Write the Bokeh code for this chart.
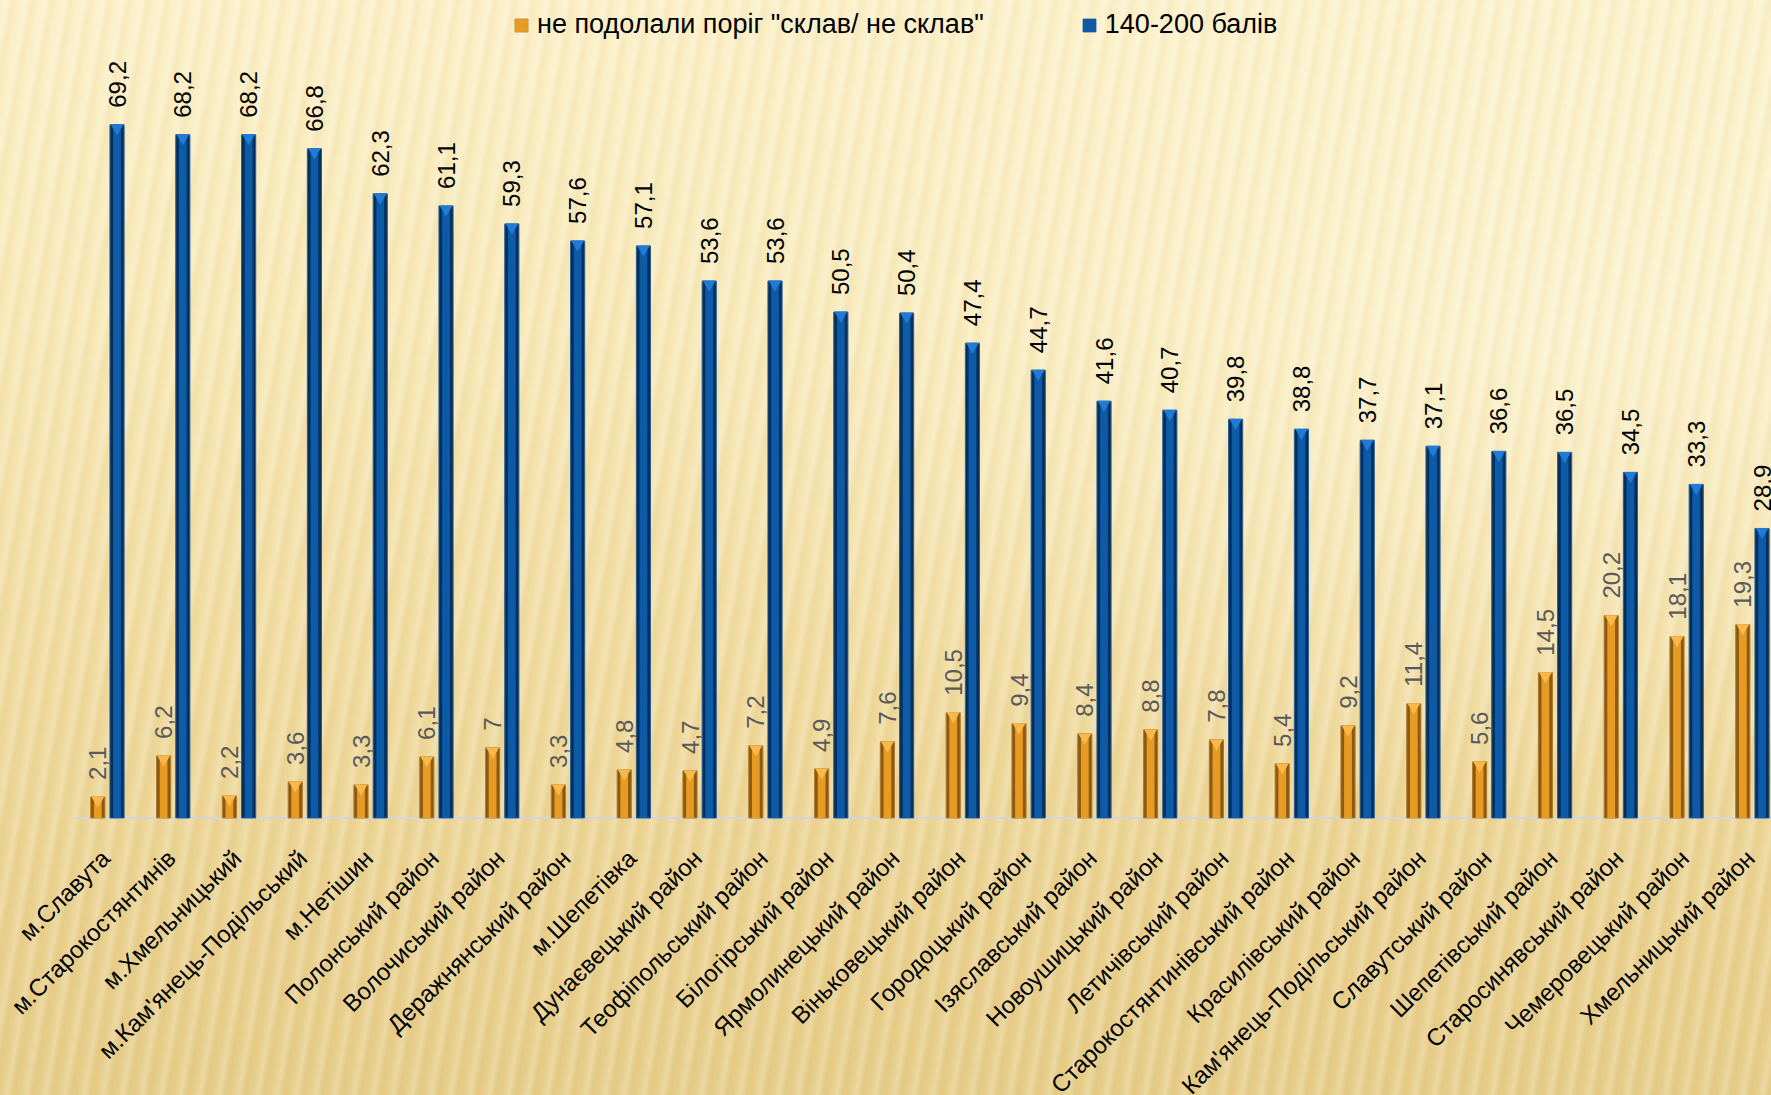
import math
from bokeh.plotting import figure
from bokeh.models import (ColumnDataSource, Range1d, Legend, LegendItem)
from bokeh.core.properties import value
from bokeh.embed import file_html
from bokeh.resources import INLINE

categories = ["м.Славута", "м.Старокостянтинів", "м.Хмельницький", "м.Кам'янець-Подільський",
              "м.Нетішин", "Полонський район", "Волочиський район", "Деражнянський район",
              "м.Шепетівка", "Дунаєвецький район", "Теофіпольський район", "Білогірський район",
              "Ярмолинецький район", "Віньковецький район", "Городоцький район", "Ізяславський район",
              "Новоушицький район", "Летичівський район", "Старокостянтинівський район",
              "Красилівський район", "Кам'янець-Подільський район", "Славутський район",
              "Шепетівський район", "Старосинявський район", "Чемеровецький район", "Хмельницький район"]
not_passed = [2.1, 6.2, 2.2, 3.6, 3.3, 6.1, 7, 3.3, 4.8, 4.7, 7.2, 4.9, 7.6, 10.5, 9.4, 8.4,
              8.8, 7.8, 5.4, 9.2, 11.4, 5.6, 14.5, 20.2, 18.1, 19.3]
high_score = [69.2, 68.2, 68.2, 66.8, 62.3, 61.1, 59.3, 57.6, 57.1, 53.6, 53.6, 50.5, 50.4, 47.4,
              44.7, 41.6, 40.7, 39.8, 38.8, 37.7, 37.1, 36.6, 36.5, 34.5, 33.3, 28.9]
series_names = ['не подолали поріг "склав/ не склав"', "140-200 балів"]


def fmt(v):
    return f"{v:g}".replace(".", ",")


n = len(categories)
centers = [i + 0.5 for i in range(n)]
dodge = 0.146
src = ColumnDataSource(dict(
    xo=[c - dodge for c in centers],
    xb=[c + dodge for c in centers],
    o=not_passed, b=high_score,
    o_cap=[v - 0.33 for v in not_passed],
    b_cap=[v - 0.33 for v in high_score],
    ol=[fmt(v) for v in not_passed],
    bl=[fmt(v) for v in high_score],
))
cat_src = ColumnDataSource(dict(x=centers, y=[0] * n, name=categories))

W, H = 1771, 1095
x_end = 25.79
p = figure(width=W, height=H, output_backend="svg", toolbar_location=None,
           x_range=Range1d(-1.125, x_end), y_range=Range1d(-27.7, 81.6),
           min_border_left=0, min_border_right=0, min_border_top=0, min_border_bottom=0)
p.background_fill_alpha = 0
p.border_fill_alpha = 0
p.outline_line_color = None
p.grid.visible = False
p.xaxis.visible = False
p.yaxis.visible = False
p.styles = {
    "background-image": (
        "repeating-linear-gradient(100deg, rgba(255,255,255,0) 0px, rgba(255,255,255,0.22) 7px, "
        "rgba(196,160,70,0.08) 13px, rgba(255,255,255,0) 19px), "
        "radial-gradient(ellipse at 88% 30%, rgba(255,250,225,0.55) 0%, rgba(255,250,225,0) 45%), "
        "linear-gradient(to bottom, #FBF0C8 0%, #F7E8B6 30%, #F0DB9F 60%, #E9D08E 85%, #E6CC88 100%)"
    )
}

# category baseline (category axis line)
p.segment(x0=[0], y0=[0], x1=[x_end], y1=[0], line_color="#D2D4DE", line_width=2)

bw = 0.215
# orange series
o_outer = p.vbar(x="xo", top="o", width=bw, source=src, fill_color="#8A5A14", line_color="#B07A2A", line_width=1)
o_inner = p.vbar(x="xo", top="o", width=bw * 0.55, source=src, fill_color="#E89B22", line_color=None)
p.scatter(x="xo", y="o_cap", source=src, marker="inverted_triangle", size=13,
          fill_color="#F8B84A", line_color=None)
# blue series
b_outer = p.vbar(x="xb", top="b", width=bw, source=src, fill_color="#062F5C", line_color="#2A5E95", line_width=1)
b_inner = p.vbar(x="xb", top="b", width=bw * 0.55, source=src, fill_color="#0D5AA7", line_color=None)
p.scatter(x="xb", y="b_cap", source=src, marker="inverted_triangle", size=13,
          fill_color="#1F7BD3", line_color=None)

# value labels
p.text(x="xo", y="o", text="ol", source=src, angle=math.pi / 2, y_offset=-17,
       text_align="left", text_baseline="middle", text_color="#595959",
       text_font=value("Liberation Sans"), text_font_size="24px")
p.text(x="xb", y="b", text="bl", source=src, angle=math.pi / 2, y_offset=-17,
       text_align="left", text_baseline="middle", text_color="#000000",
       text_font=value("Liberation Sans"), text_font_size="24px")

# category labels, rotated 45 degrees under the baseline
p.text(x="x", y="y", text="name", source=cat_src, angle=math.pi / 4,
       x_offset=-2, y_offset=36, text_align="right", text_baseline="middle",
       text_font=value("Liberation Sans"), text_font_size="24px", text_color="#000000")

legend = Legend(items=[LegendItem(label=series_names[0], renderers=[o_outer, o_inner]),
                       LegendItem(label=series_names[1], renderers=[b_outer, b_inner])],
                orientation="horizontal", location=(513, 1055),
                background_fill_alpha=0, border_line_alpha=0,
                label_text_font="Liberation Sans", label_text_font_size="27px",
                label_text_color="#000000",
                glyph_width=16, glyph_height=16, spacing=97, padding=0, margin=0,
                label_standoff=8)
p.add_layout(legend)

open("out.html", "w").write(file_html(p, INLINE))
